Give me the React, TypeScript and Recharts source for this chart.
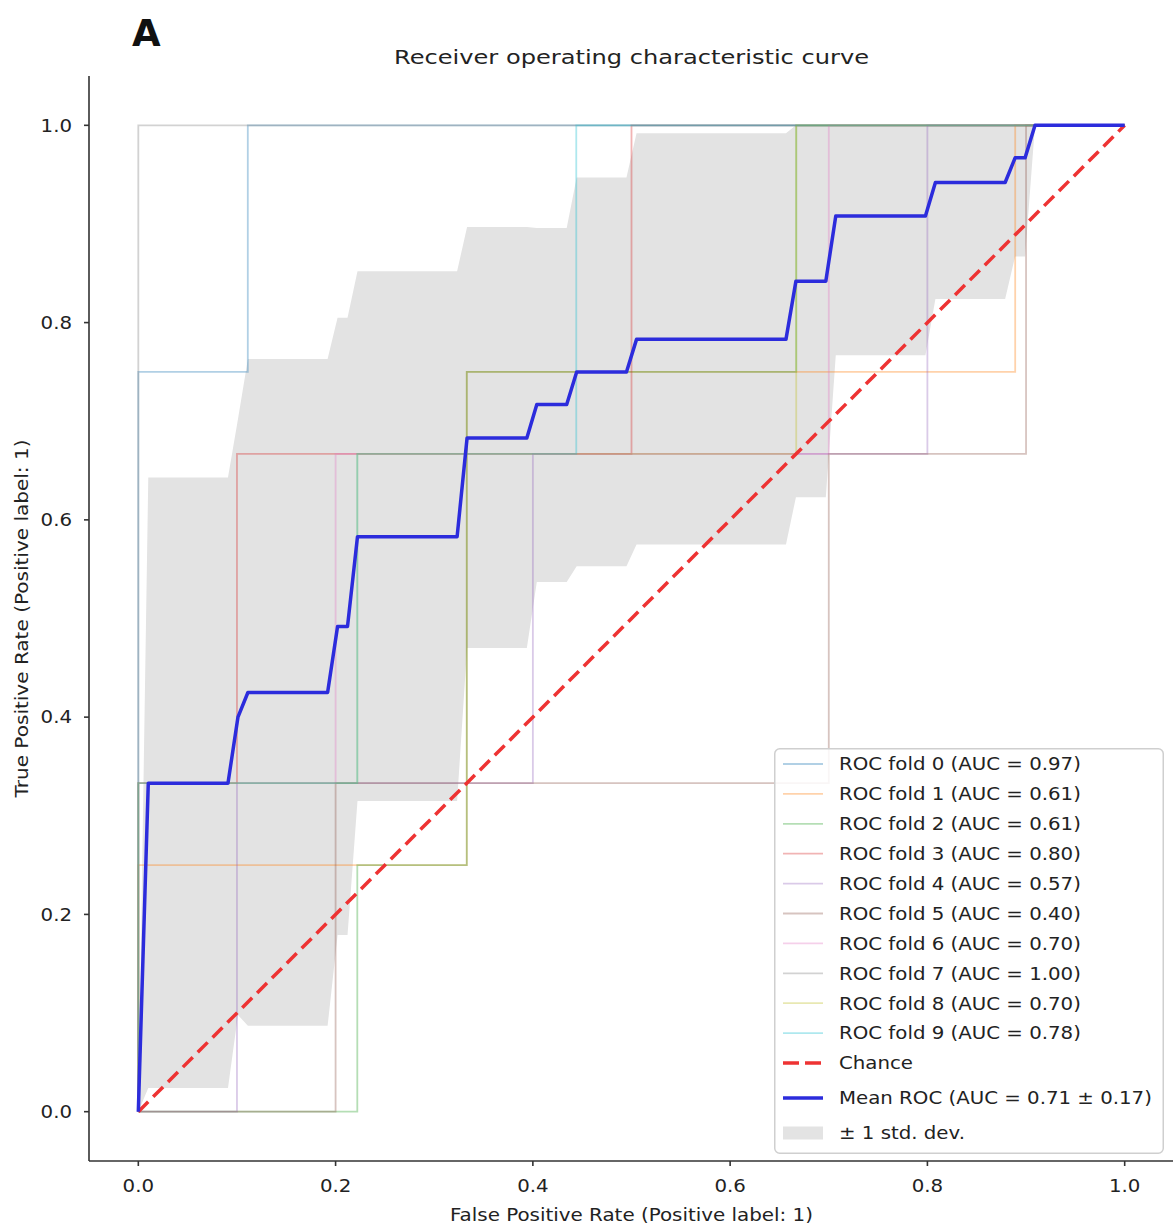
import React from 'react';
import { ComposedChart, Line, Area, XAxis, YAxis, Legend } from 'recharts';

// fold curves (false positive rate / true positive rate)
const fold0Fpr = [0, 0, 0.111, 0.111, 1];
const fold0Tpr = [0, 0.75, 0.75, 1, 1];
const fold1Fpr = [0, 0, 0.333, 0.333, 0.889, 0.889, 1];
const fold1Tpr = [0, 0.25, 0.25, 0.75, 0.75, 1, 1];
const fold2Fpr = [0, 0.222, 0.222, 0.333, 0.333, 0.667, 0.667, 1];
const fold2Tpr = [0, 0, 0.25, 0.25, 0.75, 0.75, 1, 1];
const fold3Fpr = [0, 0, 0.1, 0.1, 0.5, 0.5, 1];
const fold3Tpr = [0, 0.333, 0.333, 0.667, 0.667, 1, 1];
const fold4Fpr = [0, 0.1, 0.1, 0.4, 0.4, 0.8, 0.8, 1];
const fold4Tpr = [0, 0, 0.333, 0.333, 0.667, 0.667, 1, 1];
const fold5Fpr = [0, 0.2, 0.2, 0.7, 0.7, 0.9, 0.9, 1];
const fold5Tpr = [0, 0, 0.333, 0.333, 0.667, 0.667, 1, 1];
const fold6Fpr = [0, 0, 0.2, 0.2, 0.7, 0.7, 1];
const fold6Tpr = [0, 0.333, 0.333, 0.667, 0.667, 1, 1];
const fold7Fpr = [0, 0, 1];
const fold7Tpr = [0, 1, 1];
const fold8Fpr = [0, 0, 0.222, 0.222, 0.667, 0.667, 1];
const fold8Tpr = [0, 0.333, 0.333, 0.667, 0.667, 1, 1];
const fold9Fpr = [0, 0, 0.222, 0.222, 0.444, 0.444, 1];
const fold9Tpr = [0, 0.333, 0.333, 0.667, 0.667, 1, 1];

const foldAuc = ['0.97', '0.61', '0.61', '0.80', '0.57', '0.40', '0.70', '1.00', '0.70', '0.78'];

// mean ROC and the +/- 1 std band (corner points of the curves)
const meanFpr = [0, 0.0101, 0.0909, 0.101, 0.1111, 0.1919, 0.202, 0.2121, 0.2222, 0.3232, 0.3333, 0.3939, 0.404, 0.4343,
  0.4444, 0.4949, 0.5051, 0.6566, 0.6667, 0.697, 0.7071, 0.798, 0.8081, 0.8788, 0.8889, 0.899, 0.9091, 1];
const meanTpr = [0, 0.333, 0.333, 0.4, 0.425, 0.425, 0.492, 0.492, 0.583, 0.583, 0.683, 0.683, 0.717, 0.717,
  0.75, 0.75, 0.783, 0.783, 0.842, 0.842, 0.908, 0.908, 0.942, 0.942, 0.967, 0.967, 1, 1];
const tprUpper = [0, 0.643, 0.643, 0.702, 0.763, 0.763, 0.805, 0.805, 0.852, 0.852, 0.897, 0.897, 0.896, 0.896,
  0.947, 0.947, 0.992, 0.992, 1, 1, 1, 1, 1, 1, 1, 1, 1, 1];
const tprLower = [0, 0.024, 0.024, 0.098, 0.087, 0.087, 0.179, 0.179, 0.315, 0.315, 0.47, 0.47, 0.537, 0.537,
  0.553, 0.553, 0.575, 0.575, 0.623, 0.623, 0.767, 0.767, 0.824, 0.824, 0.867, 0.867, 1, 1];

const chanceFpr = [0, 1];
const chanceTpr = [0, 1];

const axisTicks = [0, 0.2, 0.4, 0.6, 0.8, 1.0];
const meanAuc = '0.71';
const meanStd = '0.17';

const FONT = 'DejaVu Sans';
const STRETCH = 1.13;
const FOLD_COLORS = ['#1f77b4', '#ff7f0e', '#2ca02c', '#d62728', '#9467bd', '#8c564b', '#e377c2', '#7f7f7f', '#bcbd22', '#17becf'];
const MEAN_COLOR = '#2c2cdc';
const CHANCE_COLOR = '#ee3333';
const BAND_COLOR = '#e3e3e3';

const foldFprs = [fold0Fpr, fold1Fpr, fold2Fpr, fold3Fpr, fold4Fpr, fold5Fpr, fold6Fpr, fold7Fpr, fold8Fpr, fold9Fpr];
const foldTprs = [fold0Tpr, fold1Tpr, fold2Tpr, fold3Tpr, fold4Tpr, fold5Tpr, fold6Tpr, fold7Tpr, fold8Tpr, fold9Tpr];
const folds = foldFprs.map((fpr, i) => fpr.map((x, j) => ({ x, y: foldTprs[i][j] })));
const chance = chanceFpr.map((x, i) => ({ x, y: chanceTpr[i] }));
const rows = meanFpr.map((x, i) => ({ x, mean: meanTpr[i], band: [tprLower[i], tprUpper[i]] }));

const XTick = (props: any) => {
  const { x, y, payload } = props;
  return (
    <text transform={`translate(${x},${y + 12.4}) scale(${STRETCH},1)`} textAnchor="middle"
      fontSize={17.5} fontFamily={FONT} fill="#222">
      {Number(payload.value).toFixed(1)}
    </text>
  );
};

const YTick = (props: any) => {
  const { x, y, payload } = props;
  return (
    <text transform={`translate(${x},${y + 6.2}) scale(${STRETCH},1)`} textAnchor="end"
      fontSize={17.5} fontFamily={FONT} fill="#222">
      {Number(payload.value).toFixed(1)}
    </text>
  );
};

const XLabel = (props: any) => {
  const { viewBox } = props;
  const cx = viewBox.x + viewBox.width / 2;
  return (
    <text x={cx} y={viewBox.y + 60} textAnchor="middle" fontSize={17.4} fontFamily={FONT} fill="#222"
      textLength={363} lengthAdjust="spacingAndGlyphs">
      False Positive Rate (Positive label: 1)
    </text>
  );
};

const YLabel = (props: any) => {
  const { viewBox } = props;
  const cy = viewBox.y + viewBox.height / 2;
  return (
    <text x={28} y={cy} transform={`rotate(-90, 28, ${cy})`} textAnchor="middle" fontSize={17.4} fontFamily={FONT}
      fill="#222" textLength={358} lengthAdjust="spacingAndGlyphs">
      True Positive Rate (Positive label: 1)
    </text>
  );
};

const LegendBox = () => {
  const rowY = (i: number) => 16 + i * 29.9;
  const label = (text: string, y: number) => (
    <text transform={`translate(65,${y + 6.3}) scale(${STRETCH},1)`} fontSize={17.5} fontFamily={FONT} fill="#222">
      {text}
    </text>
  );
  return (
    <svg width={390} height={406} style={{ display: 'block' }}>
      <rect x={0.75} y={0.75} width={388.5} height={404.5} rx={5} fill="#ffffff" fillOpacity={0.85}
        stroke="#cfcfcf" strokeWidth={1.5} />
      {foldAuc.map((auc, i) => (
        <g key={i}>
          <line x1={9} x2={49} y1={rowY(i)} y2={rowY(i)} stroke={FOLD_COLORS[i]} strokeOpacity={0.35} strokeWidth={1.8} />
          {label(`ROC fold ${i} (AUC = ${auc})`, rowY(i))}
        </g>
      ))}
      <line x1={9} x2={49} y1={315} y2={315} stroke={CHANCE_COLOR} strokeWidth={3.5} strokeDasharray="16 6" />
      {label('Chance', 315)}
      <line x1={9} x2={49} y1={350} y2={350} stroke={MEAN_COLOR} strokeWidth={3.5} />
      {label(`Mean ROC (AUC = ${meanAuc} \u00b1 ${meanStd})`, 350)}
      <rect x={9} y={378.5} width={40} height={13} fill={BAND_COLOR} />
      {label('\u00b1 1 std. dev.', 385)}
    </svg>
  );
};

export default function App() {
  return (
    <div style={{ position: 'absolute', left: 0, top: 0, width: 1173, height: 1225, overflow: 'hidden', background: '#fff' }}>
      <ComposedChart width={1175} height={1225} data={rows} margin={{ top: 76, right: 1, bottom: 0, left: 0 }}>
        <XAxis dataKey="x" type="number" domain={[-0.05, 1.05]} ticks={axisTicks} allowDataOverflow
          height={64} tickSize={5} tickMargin={14} stroke="#333" strokeWidth={1.6} tick={<XTick />}
          label={<XLabel />} />
        <XAxis xAxisId="top" orientation="top" type="number" domain={[-0.05, 1.05]} allowDataOverflow
          height={0} tick={false} tickLine={false} stroke="#333" strokeWidth={1.6} />
        <YAxis type="number" domain={[-0.05, 1.05]} ticks={axisTicks} allowDataOverflow width={89}
          tickSize={5} tickMargin={12} stroke="#333" strokeWidth={1.6} tick={<YTick />} label={<YLabel />} />
        <Area dataKey="band" type="linear" fill={BAND_COLOR} fillOpacity={1} stroke="none"
          isAnimationActive={false} dot={false} activeDot={false} />
        {folds.map((pts, i) => (
          <Line key={i} data={pts} dataKey="y" type="linear" stroke={FOLD_COLORS[i]} strokeOpacity={0.35}
            strokeWidth={1.8} dot={false} activeDot={false} isAnimationActive={false} />
        ))}
        <Line data={chance} dataKey="y" type="linear" stroke={CHANCE_COLOR} strokeWidth={3.5} strokeDasharray="14 7"
          dot={false} activeDot={false} isAnimationActive={false} />
        <Line dataKey="mean" type="linear" stroke={MEAN_COLOR} strokeWidth={3.5} strokeLinejoin="round"
          dot={false} activeDot={false} isAnimationActive={false} />
        <Legend layout="vertical" align="center" verticalAlign="middle" width={390} height={406}
          wrapperStyle={{ left: 774, top: 748, width: 390, height: 406 }} content={<LegendBox />} />
      </ComposedChart>
      <svg width={1173} height={1225} style={{ position: 'absolute', left: 0, top: 0, pointerEvents: 'none' }}>
        <text x={132} y={46} fontSize={37} fontWeight="bold" fontFamily={FONT} fill="#111">A</text>
        <text x={631.5} y={64} textAnchor="middle" fontSize={20} fontFamily={FONT} fill="#222"
          textLength={475} lengthAdjust="spacingAndGlyphs">
          Receiver operating characteristic curve
        </text>
      </svg>
    </div>
  );
}
